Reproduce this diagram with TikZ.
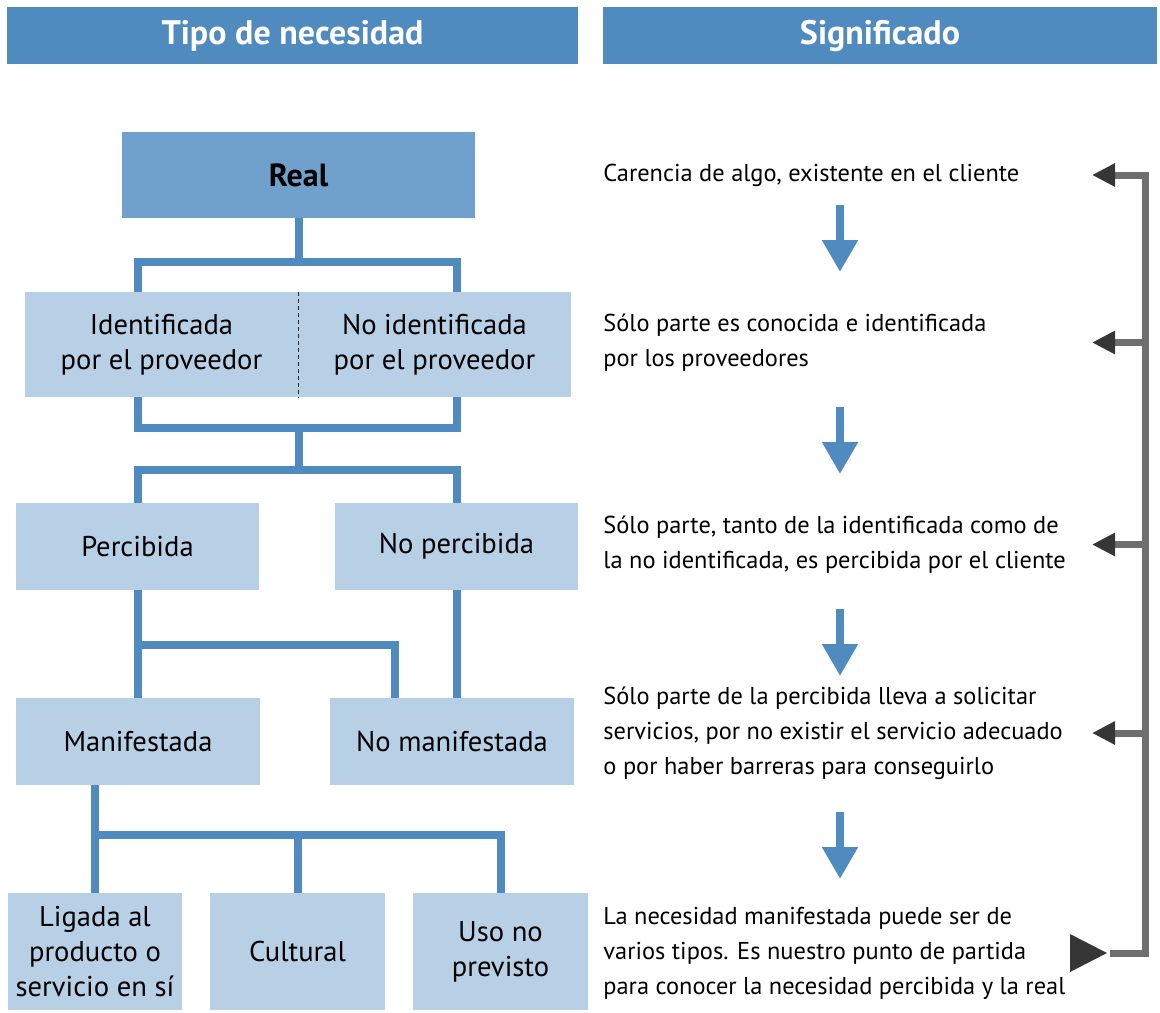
\documentclass[tikz,border=0pt]{standalone}
\usepackage{fontspec}
\setmainfont{PT Sans}
\usetikzlibrary{arrows.meta}
\definecolor{hdrblue}{RGB}{79,139,191}
\definecolor{realblue}{RGB}{111,161,204}
\definecolor{boxblue}{RGB}{184,208,230}
\definecolor{brgray}{RGB}{110,110,110}
\definecolor{tipgray}{RGB}{54,54,54}
\tikzset{
  hdr/.style={fill=hdrblue, text=white, font=\bfseries\fontsize{17}{20}\selectfont, minimum height=28.5pt, inner sep=0pt},
  tbox/.style={fill=boxblue, font=\fontsize{14.3}{17.5}\selectfont, align=center, inner sep=0pt, minimum height=43.5pt},
  conn/.style={draw=hdrblue, line width=4pt},
  desc/.style={anchor=west, align=left, font=\fontsize{12.2}{17.5}\selectfont, inner sep=0pt},
  down/.style={draw=hdrblue, line width=4pt, -{Triangle[width=17pt,length=16pt]}},
  back/.style={draw=brgray, line width=3.5pt, -{Triangle[width=11pt,length=11.5pt,color=tipgray]}},
}
\begin{document}
\begin{tikzpicture}[x=0.5pt, y=-0.5pt]
\useasboundingbox (0,0) rectangle (1160,1012);
% headers
\node[hdr, minimum width=285.5pt] (hl) at (292.5,35.5) {Tipo de necesidad};
\node[hdr, minimum width=277pt] (hr) at (880,35.5) {Significado};
% tree of needs
\node[tbox, fill=realblue, minimum width=176.5pt, minimum height=43pt, font=\bfseries\fontsize{16}{19}\selectfont] (real) at (298.5,175) {Real};
\node[tbox, minimum width=136.5pt, minimum height=52.5pt] (idl) at (161.5,344.5) {Identificada\\por el proveedor};
\node[tbox, minimum width=136.5pt, minimum height=52.5pt] (idr) at (434.5,344.5) {No identificada\\por el proveedor};
\draw[black!85, dash pattern=on 2pt off 1.5pt] (idl.north east) -- (idl.south east);
\node[tbox, minimum width=121.5pt] (perc) at (137.5,546.5) {Percibida};
\node[tbox, minimum width=121.5pt] (noperc) at (456.5,546.5) {No percibida};
\node[tbox, minimum width=122pt] (manif) at (138,741.5) {Manifestada};
\node[tbox, minimum width=122pt] (nomanif) at (452,741.5) {No manifestada};
\node[tbox, minimum width=87pt, minimum height=58.5pt] (ligada) at (95,951.5) {Ligada al\\producto o\\servicio en sí};
\node[tbox, minimum width=87.5pt, minimum height=58.5pt] (cultural) at (297.5,951.5) {Cultural};
\node[tbox, minimum width=87.5pt, minimum height=58.5pt] (uso) at (500.5,951.5) {Uso no\\previsto};
% connectors
\draw[conn] (real) -- ++(0,87) coordinate (j1);
\draw[conn] (perc.north |- idl.north) |- (j1) -| (noperc.north |- idr.north);
\path (real |- idl.south) ++(0,31) coordinate (j2) ++(0,42) coordinate (j3);
\draw[conn] (perc.north |- idl.south) |- (j2) -| (noperc.north |- idr.south);
\draw[conn] (j2) -- (j3);
\draw[conn] (perc) |- (j3) -| (noperc);
\draw[conn] (perc) -- (perc |- manif.north);
\path (perc.south) ++(0,55) coordinate (j4);
\draw[conn] (j4) -| ([xshift=-28.5pt]nomanif.north);
\draw[conn] (noperc) -- (noperc |- nomanif.north);
\draw[conn] (ligada.north |- manif.south) -- (ligada);
\path (manif.south) ++(0,50) coordinate (j5);
\draw[conn] (ligada |- j5) -| (uso);
\draw[conn] (cultural |- j5) -- (cultural);
% meanings
\node[desc] (t1) at (603,175) {Carencia de algo, existente en el cliente};
\node[desc] (t2) at (603,342.5) {Sólo parte es conocida e identificada\\por los proveedores};
\node[desc] (t3) at (603,544.5) {Sólo parte, tanto de la identificada como de\\la no identificada, es percibida por el cliente};
\node[desc] (t4) at (603,733) {Sólo parte de la percibida lleva a solicitar\\servicios, por no existir el servicio adecuado\\o por haber barreras para conseguirlo};
\node[desc] (t5) at (603,953) {La necesidad manifestada puede ser de\\varios tipos. Es nuestro punto de partida\\para conocer la necesidad percibida y la real};
\foreach \ya in {205,407,609,812} \draw[down] (840,\ya) -- ++(0,67);
% feedback bracket
\coordinate (gx) at (1145,0);
\coordinate (tx) at (1092,0);
\coordinate (gin) at (1107,0);
\draw[back] ([xshift=1.5pt]gin |- t5) -| (gx |- t1) -- (tx |- t1);
\foreach \t in {t2,t3,t4} \draw[back] (gx |- \t) -- (tx |- \t);
\fill[tipgray] (gin |- t5) -- ++(-37,-19) -- ++(0,38) -- cycle;
\end{tikzpicture}
\end{document}
